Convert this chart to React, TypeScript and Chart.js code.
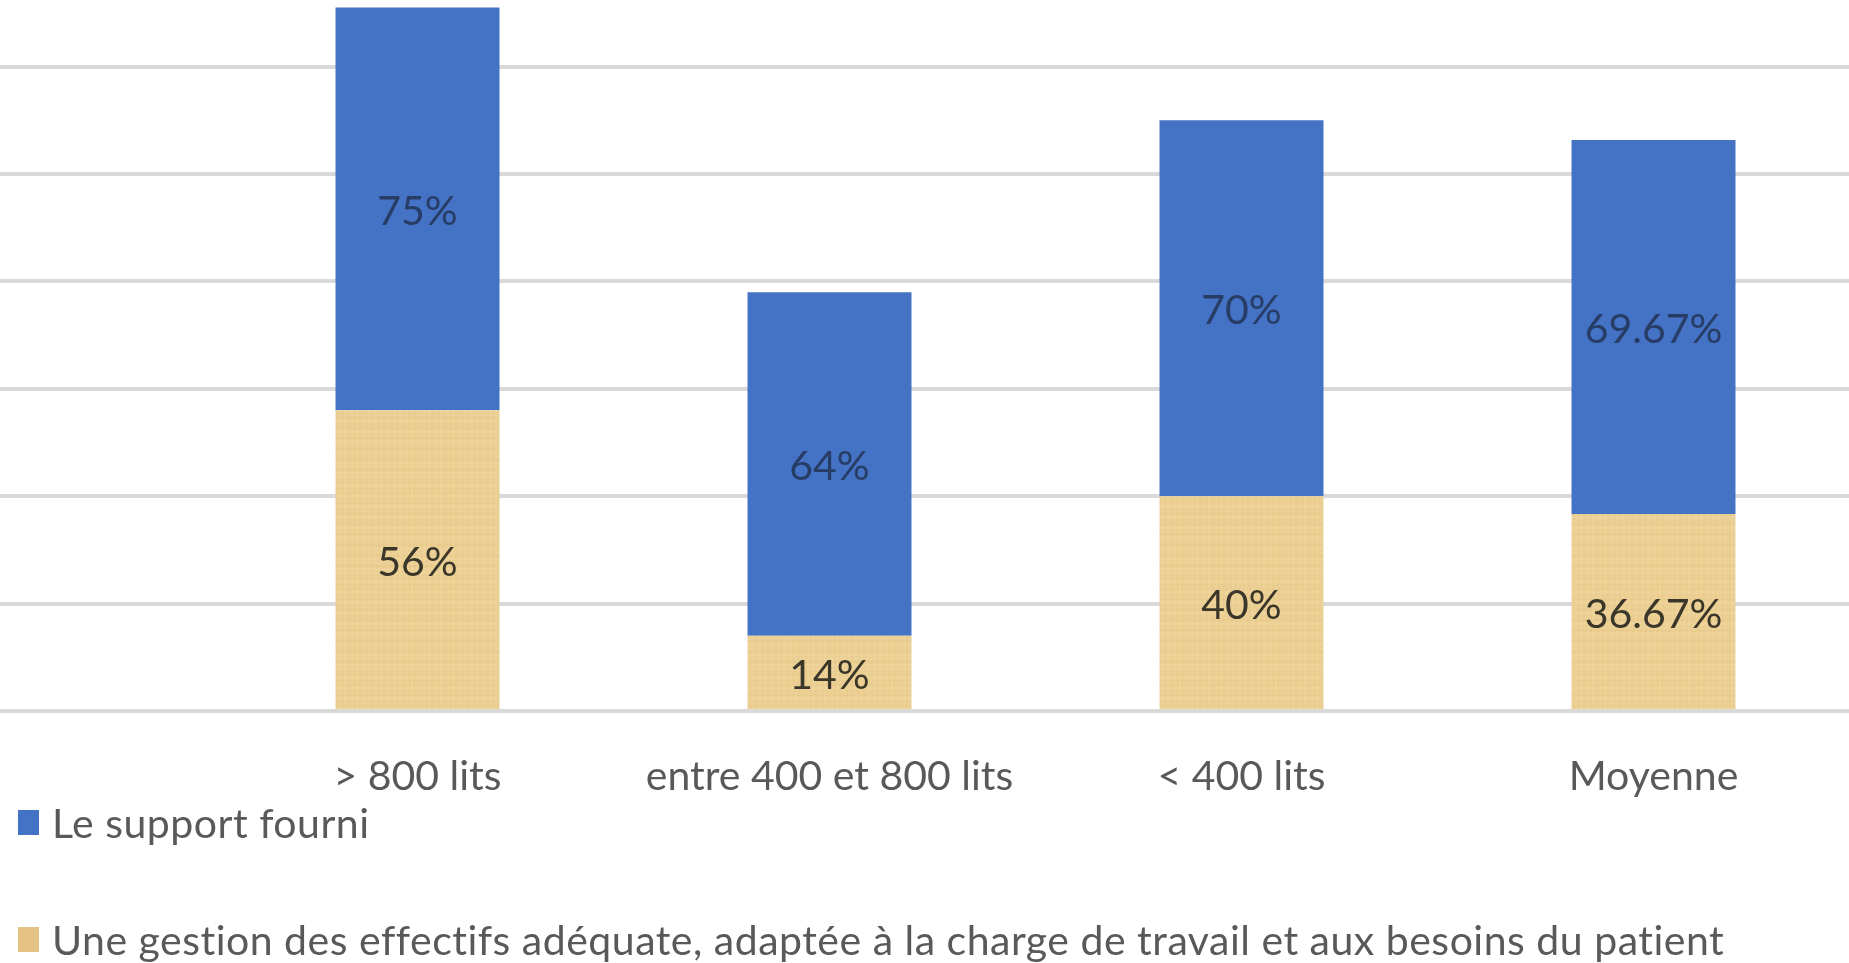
import React, { useEffect, useRef } from 'react';
import { Chart, registerables } from 'chart.js';

Chart.register(...registerables);

// ---- Data ----
const categories = ['> 800 lits', 'entre 400 et 800 lits', '< 400 lits', 'Moyenne'];
const gestionValues = [56, 14, 40, 36.67];
const supportValues = [75, 64, 70, 69.67];
const gestionName = 'Une gestion des effectifs adéquate, adaptée à la charge de travail et aux besoins du patient';
const supportName = 'Le support fourni';
const yGridTicks = [0, 20, 40, 60, 80, 100, 120];

// ---- Style ----
const W = 1849;
const H = 963;
const PLOT_BOTTOM = 711;
const FIRST_CENTER = 417.5;
const STEP = 412;
const BLUE = '#4472C4';
const TAN_SWATCH = '#E4C384';
const FONT = 'Lato';

function makePapyrus(ctx: CanvasRenderingContext2D): CanvasPattern | string {
  const c = document.createElement('canvas');
  c.width = 96;
  c.height = 96;
  const g = c.getContext('2d');
  if (!g) return '#ECD196';
  g.fillStyle = '#EFD59C';
  g.fillRect(0, 0, 96, 96);
  for (let y = 0; y < 96; y++) {
    const a = 0.08 * Math.sin(y * 0.9) * Math.sin(y * 0.31) + 0.04;
    if (a > 0) {
      g.fillStyle = `rgba(200,150,60,${a})`;
      g.fillRect(0, y, 96, 1);
    }
  }
  for (let x = 0; x < 96; x++) {
    const a = 0.06 * Math.sin(x * 1.3) * Math.cos(x * 0.23) + 0.03;
    if (a > 0) {
      g.fillStyle = `rgba(200,150,60,${a})`;
      g.fillRect(x, 0, 1, 96);
    }
  }
  return ctx.createPattern(c, 'repeat') || '#ECD196';
}

const labelColors = ['#3a3629', '#283d66'];

const barLabelPlugin = {
  id: 'barLabels',
  afterDatasetsDraw(chart: any) {
    const ctx = chart.ctx;
    ctx.save();
    ctx.font = `41px ${FONT}`;
    ctx.textAlign = 'center';
    ctx.textBaseline = 'middle';
    chart.data.datasets.forEach((ds: any, di: number) => {
      const meta = chart.getDatasetMeta(di);
      meta.data.forEach((bar: any, i: number) => {
        const v = ds.data[i].y;
        const { x, y, base } = bar.getProps(['x', 'y', 'base'], true);
        ctx.fillStyle = labelColors[di];
        ctx.fillText(`${v}%`, x, (y + base) / 2 + 3);
      });
    });
    ctx.restore();
  },
};

export default function App() {
  const canvasRef = useRef<HTMLCanvasElement | null>(null);

  useEffect(() => {
    const canvas = canvasRef.current;
    if (!canvas) return;
    const ctx = canvas.getContext('2d');
    if (!ctx) return;
    const papyrus = makePapyrus(ctx);

    const chart = new Chart(ctx, {
      type: 'bar',
      data: {
        datasets: [
          {
            label: gestionName,
            data: gestionValues.map((v, i) => ({ x: i, y: v })),
            backgroundColor: papyrus as any,
            borderWidth: 0,
            barPercentage: 0.398,
            categoryPercentage: 1,
          },
          {
            label: supportName,
            data: supportValues.map((v, i) => ({ x: i, y: v })),
            backgroundColor: BLUE,
            borderWidth: 0,
            barPercentage: 0.398,
            categoryPercentage: 1,
          },
        ],
      },
      options: {
        responsive: false,
        maintainAspectRatio: false,
        animation: false,
        layout: { padding: 0 },
        plugins: {
          legend: { display: false },
          tooltip: { enabled: false },
        },
        scales: {
          x: {
            type: 'linear',
            stacked: true,
            offset: false,
            min: -FIRST_CENTER / STEP,
            max: (W - FIRST_CENTER) / STEP,
            grid: { display: false, drawTicks: false },
            border: { display: false },
            ticks: {
              font: { family: FONT, size: 41 },
              color: '#595959',
              padding: 41,
              maxRotation: 0,
              autoSkip: false,
              callback: (v: any) => categories[v as number] ?? '',
            },
            afterBuildTicks: (s: any) => {
              s.ticks = categories.map((_, i) => ({ value: i }));
            },
            afterFit: (s: any) => {
              s.height = H - PLOT_BOTTOM;
            },
          },
          y: {
            stacked: true,
            min: 0,
            max: 132.4,
            grid: { color: '#D9D9D9', lineWidth: 4, drawTicks: false },
            border: { display: false },
            ticks: { display: false, stepSize: 20 },
            afterBuildTicks: (s: any) => {
              s.ticks = yGridTicks.map((v) => ({ value: v }));
            },
            afterFit: (s: any) => {
              s.width = 0;
            },
          },
        } as any,
      },
      plugins: [barLabelPlugin],
    });
    return () => chart.destroy();
  }, []);

  const legendRow: React.CSSProperties = {
    position: 'absolute',
    left: 18,
    height: 41,
    display: 'flex',
    alignItems: 'center',
    font: `41px ${FONT}`,
    letterSpacing: '0.5px',
    color: '#595959',
    whiteSpace: 'nowrap',
  };

  return (
    <div style={{ position: 'fixed', left: 0, top: 0, width: W, height: H, overflow: 'hidden', background: '#fff' }}>
      <canvas ref={canvasRef} width={W} height={H} style={{ position: 'absolute', left: 0, top: 0, width: W, height: H }} />
      <div style={{ ...legendRow, top: 802 }}>
        <span style={{ display: 'inline-block', width: 21, height: 25, background: BLUE, marginRight: 13 }} />
        {supportName}
      </div>
      <div style={{ ...legendRow, top: 919 }}>
        <span style={{ display: 'inline-block', width: 21, height: 25, background: TAN_SWATCH, marginRight: 13 }} />
        {gestionName}
      </div>
    </div>
  );
}
